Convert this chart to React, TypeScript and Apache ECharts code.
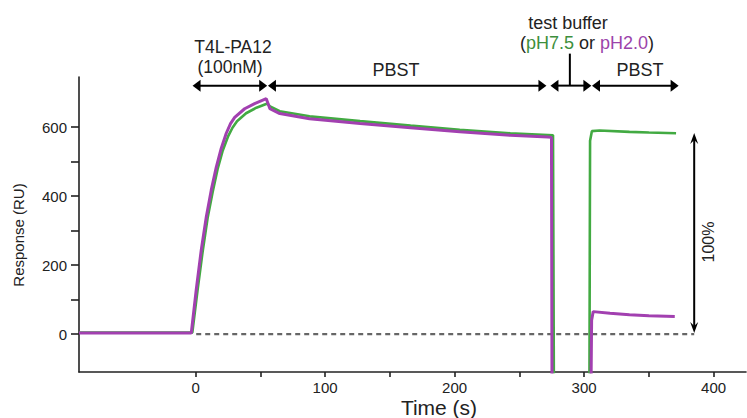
import React, { useEffect, useRef } from "react";
import * as echarts from "echarts";

const FONT = '"Liberation Sans", Arial, Helvetica, sans-serif';

// Sensorgram, pH7.5 (green)
const greenT = [-90, -60, -30, -2.5, 1.5, 5.5, 9.3, 13.2, 17, 21, 25, 28.5, 32, 39, 47, 55.5, 57.5, 65, 88, 127, 166, 204, 243, 272, 276, 276.8, 304, 304.6, 306, 312, 335, 350, 371];
const greenV = [4, 4, 4, 4, 126, 240, 336, 412, 478, 532, 572, 598, 617, 640, 656, 668, 660, 646, 631, 617, 604, 592, 582, 577, 576, -300, -300, 560, 588, 590, 586, 584, 582];

// Sensorgram, pH2.0 (purple)
const purpleT = [-90, -60, -30, -3.3, 0.5, 4.4, 8.3, 12.1, 16, 19.8, 23.7, 27, 30.2, 37.9, 45.6, 54.6, 57.4, 65, 88, 127, 166, 204, 243, 272, 274.8, 275.3, 305, 305.8, 307, 320, 335, 350, 370];
const purpleV = [3, 3, 3, 3, 128, 244, 340, 417, 484, 538, 582, 610, 628, 653, 668, 682, 653, 639, 624, 610, 598, 586, 576, 571, 570, -300, -300, 40, 65, 60, 56, 53, 51];

// Axes
const xTicks = [0, 50, 100, 150, 200, 250, 300, 350, 400];
const xLabels = [0, 100, 200, 300, 400];
const yTicks = [0, 100, 200, 300, 400, 500, 600];
const yLabels = [0, 200, 400, 600];

// Annotations (data units)
const phaseArrows: [number, number][] = [[-2.3, 55.3], [55.9, 270.9], [274, 305.6], [306.1, 373]];
const phaseLevel = 720;
const bufferMarkT = 289;
const zeroLineRange: [number, number] = [0.5, 385];
const fullResponse = { t: 385, from: 3, to: 583 };

const GREEN = "#42aa42";
const PURPLE = "#a240b0";
const GREEN_TXT = "#3d8f3d";
const PURPLE_TXT = "#9c44ab";

export default function App() {
  const ref = useRef<HTMLDivElement>(null);
  useEffect(() => {
    if (!ref.current) return;
    const chart = echarts.init(ref.current, undefined, { renderer: "svg" });
    const axisLine = { show: true, lineStyle: { color: "#222", width: 1.6 } };
    chart.setOption({
      animation: false,
      grid: { left: 79, right: 1, top: 77, bottom: 46, containLabel: false },
      xAxis: {
        type: "value",
        min: -90,
        max: 425,
        axisLine: { ...axisLine, onZero: false },
        axisTick: { show: true, customValues: xTicks, length: 5, lineStyle: { color: "#222", width: 1.6 } },
        axisLabel: { customValues: xLabels, fontSize: 15, color: "#222", fontFamily: FONT, margin: 8 },
        splitLine: { show: false },
      },
      yAxis: {
        type: "value",
        min: -110,
        max: 745,
        axisLine: { ...axisLine, onZero: false },
        axisTick: { show: true, customValues: yTicks, length: 8, lineStyle: { color: "#222", width: 1.6 } },
        axisLabel: { customValues: yLabels, fontSize: 15, color: "#222", fontFamily: FONT, margin: 12 },
        splitLine: { show: false },
      },
      series: [
        {
          type: "line",
          data: greenT.map((t, i) => [t, greenV[i]]),
          showSymbol: false,
          clip: true,
          lineStyle: { color: GREEN, width: 2.6 },
          itemStyle: { color: GREEN },
        },
        {
          type: "line",
          data: purpleT.map((t, i) => [t, purpleV[i]]),
          showSymbol: false,
          clip: true,
          lineStyle: { color: PURPLE, width: 3 },
          itemStyle: { color: PURPLE },
        },
      ],
    });

    const p = (t: number, v: number) => chart.convertToPixel({ gridIndex: 0 }, [t, v]) as number[];
    const black = { stroke: "#000", lineWidth: 2 };
    const g: any[] = [];
    const triH = (x: number, y: number, dir: number) => ({
      type: "polygon",
      shape: { points: [[x, y], [x - dir * 8, y - 6], [x - dir * 8, y + 6]] },
      style: { fill: "#000" },
    });
    const triV = (x: number, y: number, dir: number) => ({
      type: "polygon",
      shape: { points: [[x, y], [x - 4, y - dir * 11], [x, y - dir * 7], [x + 4, y - dir * 11]] },
      style: { fill: "#000" },
    });
    phaseArrows.forEach(([a, b]) => {
      const [x1, y] = p(a, phaseLevel);
      const [x2] = p(b, phaseLevel);
      g.push({ type: "line", shape: { x1: x1 + 6, y1: y, x2: x2 - 6, y2: y }, style: black });
      g.push(triH(x1, y, -1));
      g.push(triH(x2, y, 1));
    });
    const [bx, by] = p(bufferMarkT, phaseLevel);
    g.push({ type: "line", shape: { x1: bx, y1: by, x2: bx, y2: by - 32 }, style: black });

    const [zx1, zy] = p(zeroLineRange[0], 0);
    const [zx2] = p(zeroLineRange[1], 0);
    g.push({ type: "line", shape: { x1: zx1, y1: zy, x2: zx2, y2: zy }, style: { stroke: "#666", lineWidth: 2.2, lineDash: [5, 4] } });

    const [fx, fTop] = p(fullResponse.t, fullResponse.to);
    const [, fBot] = p(fullResponse.t, fullResponse.from);
    g.push({ type: "line", shape: { x1: fx, y1: fTop + 4, x2: fx, y2: fBot - 4 }, style: black });
    g.push(triV(fx, fTop, -1));
    g.push(triV(fx, fBot, 1));

    const txt = (text: string, x: number, y: number, size: number, extra: any = {}, lh?: number) => ({
      type: "text",
      x,
      y,
      ...extra,
      style: {
        text,
        fontSize: size,
        fontFamily: FONT,
        fill: "#222",
        align: "center",
        verticalAlign: "middle",
        ...(lh ? { lineHeight: lh } : {}),
      },
    });
    g.push(txt("T4L-PA12", 233, 46.5, 17.5));
    g.push(txt("(100nM)", 230, 66.5, 17.5));
    g.push(txt("PBST", 396, 70, 18));
    g.push(txt("test buffer", 568, 22.5, 18));
    g.push({
      type: "text",
      x: 587,
      y: 42.5,
      style: {
        text: "{k|(}{g|pH7.5}{k| or }{m|pH2.0}{k|)}",
        align: "center",
        verticalAlign: "middle",
        fontSize: 18,
        fontFamily: FONT,
        rich: {
          k: { fill: "#222", fontSize: 18, fontFamily: FONT },
          g: { fill: GREEN_TXT, fontSize: 18, fontFamily: FONT },
          m: { fill: PURPLE_TXT, fontSize: 18, fontFamily: FONT },
        },
      },
    });
    g.push(txt("PBST", 640, 70, 18));
    g.push(txt("Time (s)", 439, 407, 21));
    g.push(txt("Response (RU)", 18, 235, 15, { rotation: Math.PI / 2 }));
    g.push(txt("100%", 708, 242, 16, { rotation: Math.PI / 2 }));

    chart.setOption({ graphic: g });
    return () => chart.dispose();
  }, []);
  return <div ref={ref} style={{ position: "fixed", left: 0, top: 0, width: 747, height: 418, background: "#fff" }} />;
}
